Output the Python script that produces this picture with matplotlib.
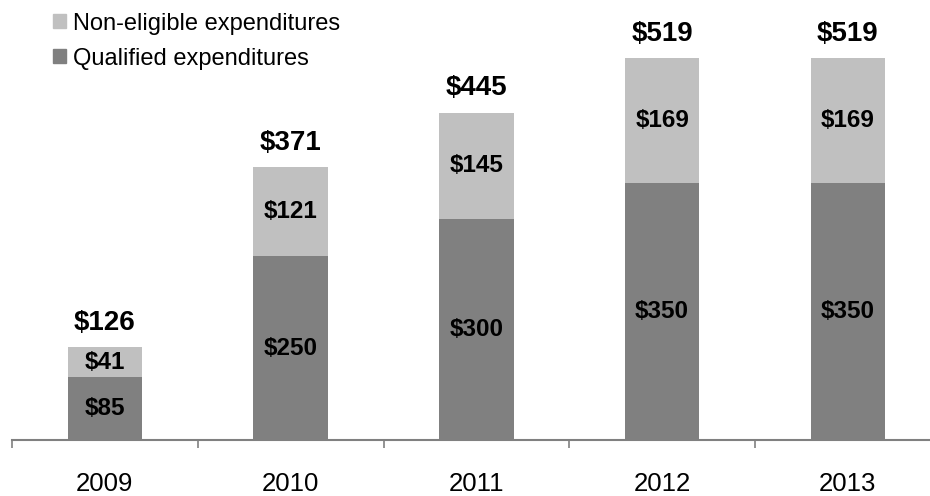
import matplotlib
matplotlib.use("Agg")
import matplotlib.pyplot as plt
from matplotlib.patches import Patch

years = ["2009", "2010", "2011", "2012", "2013"]
qualified = [85, 250, 300, 350, 350]
non_eligible = [41, 121, 145, 169, 169]
totals = [126, 371, 445, 519, 519]
series_names = ["Qualified expenditures", "Non-eligible expenditures"]

dark = "#808080"
light = "#C0C0C0"
plt.rcParams['font.family'] = ['Liberation Sans', 'DejaVu Sans']

fig = plt.figure(figsize=(9.3, 4.96), dpi=100)
ax = fig.add_axes([12 / 930, 56 / 496, 928.75 / 930, 412 / 496])

x = list(range(len(years)))
b1 = ax.bar(x, qualified, width=0.4, color=dark, label=series_names[0])
b2 = ax.bar(x, non_eligible, width=0.4, bottom=qualified, color=light, label=series_names[1])

for i in x:
    ax.text(i, qualified[i] / 2, f"${qualified[i]}", ha="center", va="center",
            fontsize=17.5, fontweight="bold", color="black")
    ax.text(i, qualified[i] + non_eligible[i] / 2, f"${non_eligible[i]}", ha="center",
            va="center", fontsize=17.5, fontweight="bold", color="black")
    ax.annotate(f"${totals[i]}", xy=(i, totals[i]), xytext=(0, 17.5), textcoords="offset points",
                ha="center", va="center", fontsize=20, fontweight="bold", color="black")

ax.set_xlim(-0.5, 4.5)
ax.set_ylim(0, 560)
ax.set_xticks([i - 0.5 for i in range(len(years) + 1)], minor=False)
ax.set_xticklabels([""] * (len(years) + 1))
ax.set_xticks(x, minor=True)
ax.set_xticklabels(years, minor=True, fontsize=18.5)
ax.tick_params(axis="x", which="major", direction="out", length=6, width=1.2, color=dark)
ax.tick_params(axis="x", which="minor", length=0, pad=23)
ax.set_yticks([])
for s in ["top", "right", "left"]:
    ax.spines[s].set_visible(False)
ax.spines["bottom"].set_color(dark)
ax.spines["bottom"].set_linewidth(1.5)

handles = [Patch(color=light), Patch(color=dark)]
leg = fig.legend(handles, [series_names[1], series_names[0]], loc="upper left",
                 bbox_to_anchor=(36 / 930, 1 + 4 / 496), frameon=False, fontsize=17,
                 handlelength=0.55, handleheight=0.55, handletextpad=0.3, labelspacing=0.55,
                 borderpad=0.2)

fig.savefig("out.png", dpi=100)
